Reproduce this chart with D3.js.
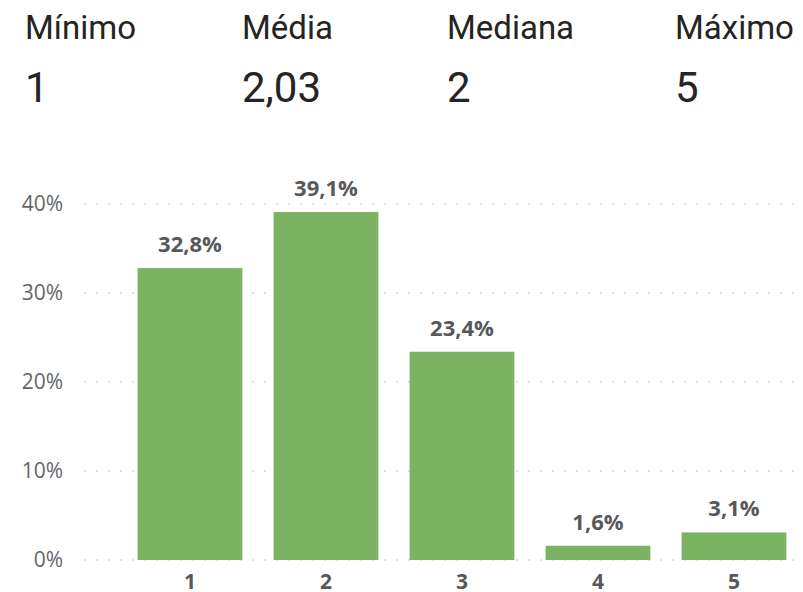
<!DOCTYPE html>
<html>
<head>
<meta charset="utf-8">
<script src="https://cdn.jsdelivr.net/npm/d3@7"></script>
<style>
  body { margin: 0; background: #fff; }
  svg { display: block; }
</style>
</head>
<body>
<svg id="chart" width="803" height="592"></svg>
<script>
// dados
var statNames = ["Mínimo", "Média", "Mediana", "Máximo"];
var statValues = ["1", "2,03", "2", "5"];

var categories = ["1", "2", "3", "4", "5"];
var percents = [32.8, 39.1, 23.4, 1.6, 3.1];
var yTicks = [0, 10, 20, 30, 40];

var svg = d3.select("#chart");

// cabeçalho com as estatísticas
var statX = [25, 242, 447, 675];
var header = svg.append("g").attr("class", "stats");
header.selectAll(".statName")
    .data(statNames)
    .enter().append("text")
    .attr("class", "statName")
    .attr("x", (d, i) => statX[i])
    .attr("y", 39)
    .style("font-family", "Roboto, 'Open Sans', sans-serif")
    .style("font-size", "33px")
    .style("fill", "#252423")
    .text(d => d);

header.selectAll(".statValue")
    .data(statValues)
    .enter().append("text")
    .attr("class", "statValue")
    .attr("x", (d, i) => statX[i])
    .attr("y", 102)
    .style("font-family", "Roboto, 'Open Sans', sans-serif")
    .style("font-size", "42px")
    .style("fill", "#252423")
    .text(d => d);

// escalas
var xScale = d3.scaleBand()
    .domain(categories)
    .range([122, 802])
    .paddingInner(0.23)
    .paddingOuter(0.115);

var yScale = d3.scaleLinear()
    .domain([0, 40])
    .range([560, 204]);

var data = categories.map((c, i) => ({ cat: c, val: percents[i] }));

// linhas de grade
svg.append("g")
    .selectAll("line")
    .data(yTicks)
    .enter().append("line")
    .attr("x1", 84)
    .attr("x2", 798)
    .attr("y1", d => yScale(d))
    .attr("y2", d => yScale(d))
    .attr("stroke", "#dcdff0")
    .attr("stroke-width", 2)
    .attr("stroke-dasharray", "2,10");

// eixo Y
var yAxis = svg.append("g")
    .attr("transform", "translate(84,0)")
    .call(d3.axisLeft(yScale).tickValues(yTicks).tickSize(0).tickPadding(21)
        .tickFormat(d => d + "%"));
yAxis.select(".domain").remove();
yAxis.selectAll("text")
    .style("font-family", "'Open Sans', sans-serif")
    .style("font-size", "21px")
    .style("fill", "#666666");

// barras
svg.selectAll(".bar")
    .data(data)
    .enter().append("rect")
    .attr("class", "bar")
    .attr("x", d => xScale(d.cat))
    .attr("y", d => yScale(d.val))
    .attr("width", xScale.bandwidth())
    .attr("height", d => yScale(0) - yScale(d.val))
    .style("fill", "#7bb363");

// rótulos de dados
svg.selectAll(".label")
    .data(data)
    .enter().append("text")
    .attr("class", "label")
    .attr("x", d => xScale(d.cat) + xScale.bandwidth() / 2)
    .attr("y", d => yScale(d.val) - 16)
    .attr("text-anchor", "middle")
    .style("font-family", "'Open Sans', sans-serif")
    .style("font-size", "22px")
    .style("font-weight", "bold")
    .style("fill", "#58585a")
    .text(d => d3.format(".1f")(d.val).replace(".", ",") + "%");

// eixo X
var xAxis = svg.append("g")
    .attr("transform", "translate(0,560)")
    .call(d3.axisBottom(xScale).tickSize(0).tickPadding(14));
xAxis.select(".domain").remove();
xAxis.selectAll("text")
    .style("font-family", "'Open Sans', sans-serif")
    .style("font-size", "21px")
    .style("font-weight", "bold")
    .style("fill", "#58585a");
</script>
</body>
</html>
